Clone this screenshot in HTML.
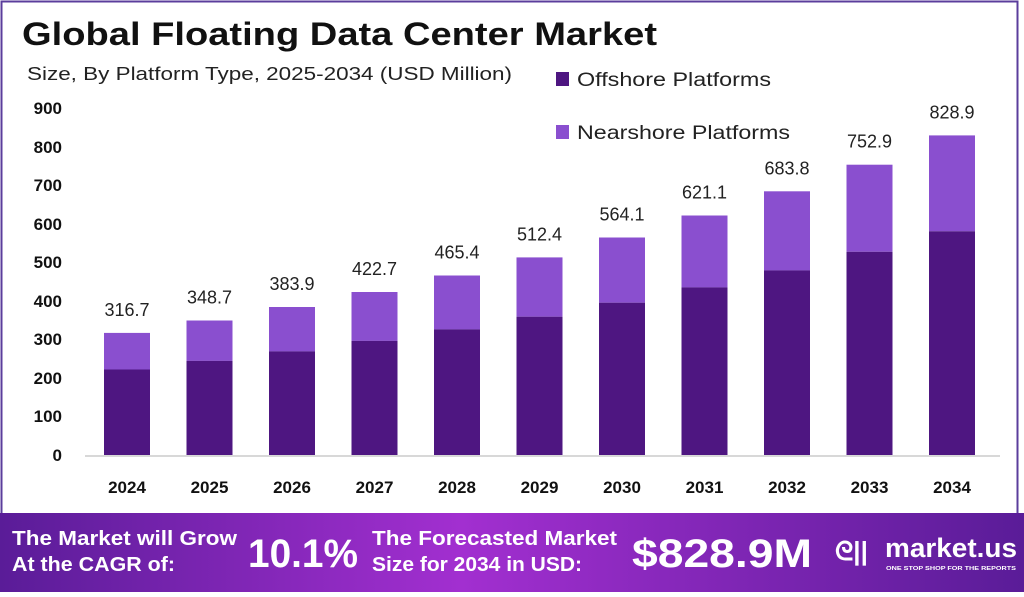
<!DOCTYPE html>
<html><head><meta charset="utf-8"><style>
body{margin:0;width:1024px;height:592px;overflow:hidden;background:#fff;font-family:"Liberation Sans",sans-serif}
</style></head><body>
<svg width="1024" height="592" viewBox="0 0 1024 592" xmlns="http://www.w3.org/2000/svg" font-family="Liberation Sans, sans-serif">
<defs>
<linearGradient id="bg" x1="0" x2="1" y1="0" y2="0">
<stop offset="0" stop-color="#5a1c98"/><stop offset="0.45" stop-color="#a22fd0"/><stop offset="1" stop-color="#5a1c98"/>
</linearGradient>
</defs>
<rect x="1.5" y="1.5" width="1016" height="590" fill="none" stroke="#5b3d9c" stroke-width="2"/>
<text x="22" y="45" font-size="32" font-weight="bold" fill="#111" textLength="635" lengthAdjust="spacingAndGlyphs">Global Floating Data Center Market</text>
<text x="27" y="80" font-size="18" fill="#222" textLength="485" lengthAdjust="spacingAndGlyphs">Size, By Platform Type, 2025-2034 (USD Million)</text>
<rect x="556" y="72" width="13" height="14" fill="#4e1681"/>
<text x="577" y="86" font-size="19" fill="#222" textLength="194" lengthAdjust="spacingAndGlyphs">Offshore Platforms</text>
<rect x="556" y="125" width="13" height="14" fill="#8a4fcf"/>
<text x="577" y="139" font-size="19" fill="#222" textLength="213" lengthAdjust="spacingAndGlyphs">Nearshore Platforms</text>
<g font-size="17" font-weight="bold" fill="#111" text-anchor="end">
<text x="62" y="114">900</text><text x="62" y="153">800</text><text x="62" y="191">700</text>
<text x="62" y="230">600</text><text x="62" y="268">500</text><text x="62" y="307">400</text>
<text x="62" y="345">300</text><text x="62" y="384">200</text><text x="62" y="422">100</text>
<text x="62" y="461">0</text>
</g>
<line x1="85" y1="456" x2="1000" y2="456" stroke="#ccc" stroke-width="1.5"/>
<g>
<rect x="104" y="332.9" width="46" height="36.6" fill="#8a4fcf"/><rect x="104" y="369.5" width="46" height="85.5" fill="#4e1681"/>
<rect x="186.5" y="320.5" width="46" height="40.4" fill="#8a4fcf"/><rect x="186.5" y="360.9" width="46" height="94.1" fill="#4e1681"/>
<rect x="269" y="307" width="46" height="44.4" fill="#8a4fcf"/><rect x="269" y="351.4" width="46" height="103.6" fill="#4e1681"/>
<rect x="351.5" y="292" width="46" height="48.9" fill="#8a4fcf"/><rect x="351.5" y="340.9" width="46" height="114.1" fill="#4e1681"/>
<rect x="434" y="275.5" width="46" height="53.9" fill="#8a4fcf"/><rect x="434" y="329.4" width="46" height="125.6" fill="#4e1681"/>
<rect x="516.5" y="257.4" width="46" height="59.3" fill="#8a4fcf"/><rect x="516.5" y="316.7" width="46" height="138.3" fill="#4e1681"/>
<rect x="599" y="237.5" width="46" height="65.2" fill="#8a4fcf"/><rect x="599" y="302.7" width="46" height="152.3" fill="#4e1681"/>
<rect x="681.5" y="215.5" width="46" height="71.9" fill="#8a4fcf"/><rect x="681.5" y="287.4" width="46" height="167.6" fill="#4e1681"/>
<rect x="764" y="191.3" width="46" height="79.1" fill="#8a4fcf"/><rect x="764" y="270.4" width="46" height="184.6" fill="#4e1681"/>
<rect x="846.5" y="164.7" width="46" height="87.1" fill="#8a4fcf"/><rect x="846.5" y="251.8" width="46" height="203.2" fill="#4e1681"/>
<rect x="929" y="135.4" width="46" height="95.9" fill="#8a4fcf"/><rect x="929" y="231.3" width="46" height="223.7" fill="#4e1681"/>
</g>
<g font-size="18" fill="#222" text-anchor="middle">
<text x="127" y="316">316.7</text><text x="209.5" y="303.5">348.7</text><text x="292" y="290">383.9</text>
<text x="374.5" y="275">422.7</text><text x="457" y="258.5">465.4</text><text x="539.5" y="240.4">512.4</text>
<text x="622" y="220.5">564.1</text><text x="704.5" y="198.5">621.1</text><text x="787" y="174.3">683.8</text>
<text x="869.5" y="147.7">752.9</text><text x="952" y="118.4">828.9</text>
</g>
<g font-size="17" font-weight="bold" fill="#111" text-anchor="middle">
<text x="127" y="493">2024</text><text x="209.5" y="493">2025</text><text x="292" y="493">2026</text>
<text x="374.5" y="493">2027</text><text x="457" y="493">2028</text><text x="539.5" y="493">2029</text>
<text x="622" y="493">2030</text><text x="704.5" y="493">2031</text><text x="787" y="493">2032</text>
<text x="869.5" y="493">2033</text><text x="952" y="493">2034</text>
</g>
<rect x="0" y="513" width="1024" height="79" fill="url(#bg)"/>
<g fill="#fff" font-weight="bold">
<text x="12" y="545" font-size="20" textLength="225" lengthAdjust="spacingAndGlyphs">The Market will Grow</text>
<text x="12" y="571" font-size="20" textLength="163" lengthAdjust="spacingAndGlyphs">At the CAGR of:</text>
<text x="248" y="567" font-size="40" textLength="110" lengthAdjust="spacingAndGlyphs">10.1%</text>
<text x="372" y="545" font-size="20" textLength="245" lengthAdjust="spacingAndGlyphs">The Forecasted Market</text>
<text x="372" y="571" font-size="20" textLength="210" lengthAdjust="spacingAndGlyphs">Size for 2034 in USD:</text>
<text x="632" y="567" font-size="40" textLength="180" lengthAdjust="spacingAndGlyphs">$828.9M</text>
<text x="835" y="560" font-size="26">ᘓ||</text>
<text x="885" y="557" font-size="27" textLength="132" lengthAdjust="spacingAndGlyphs">market.us</text>
<text x="886" y="570" font-size="5" textLength="130" lengthAdjust="spacingAndGlyphs">ONE STOP SHOP FOR THE REPORTS</text>
</g>
</svg>
</body></html>
